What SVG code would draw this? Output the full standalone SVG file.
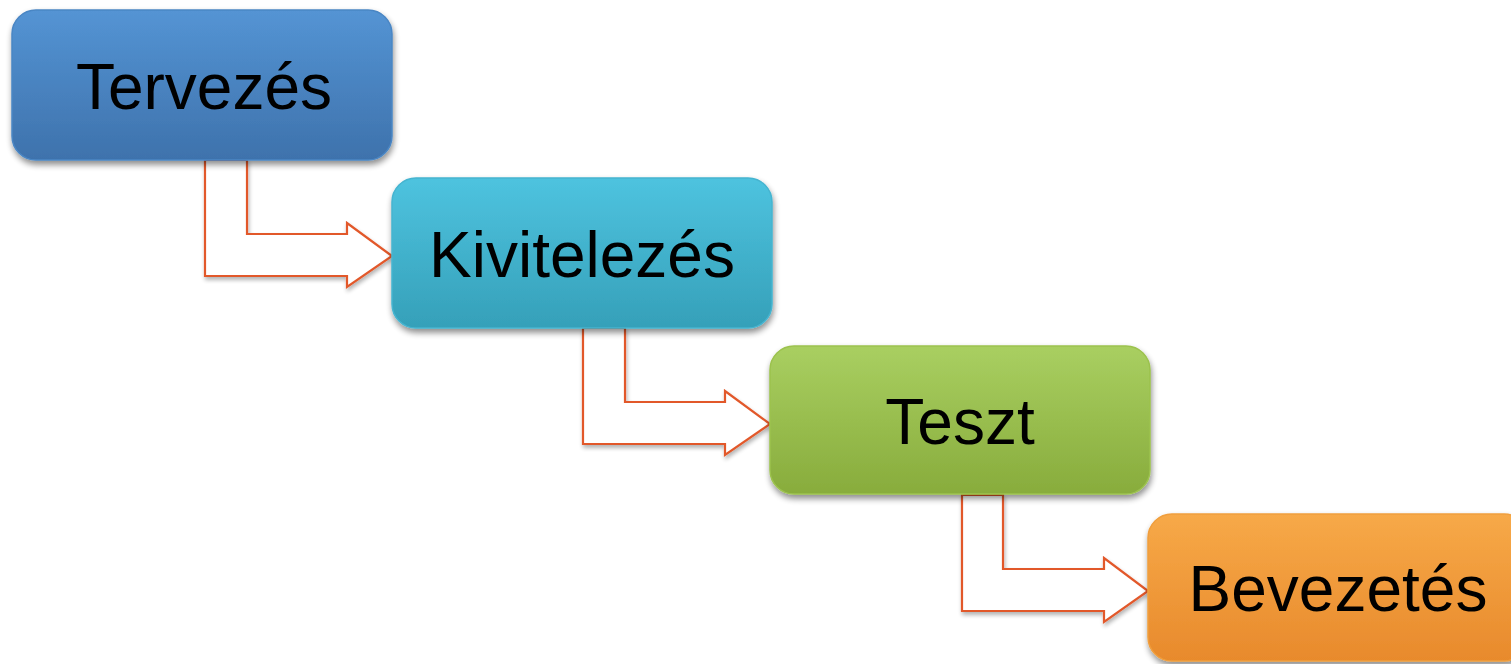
<svg xmlns="http://www.w3.org/2000/svg" width="1511" height="664" viewBox="0 0 1511 664">
<style>
.box{stroke-width:1.5;filter:url(#sh)}
.lbl{font-family:"Liberation Sans",Arial,sans-serif;font-size:64px;fill:#000;text-anchor:middle}
.arr{fill:#fff;stroke:#e2582a;stroke-width:2.2;stroke-linejoin:miter;filter:url(#sh2)}
</style>
<defs>
<filter id="sh" x="-10%" y="-10%" width="120%" height="130%">
<feGaussianBlur in="SourceAlpha" stdDeviation="3"/>
<feOffset dx="1" dy="4" result="b"/>
<feComponentTransfer><feFuncA type="linear" slope="0.45"/></feComponentTransfer>
<feMerge><feMergeNode/><feMergeNode in="SourceGraphic"/></feMerge>
</filter>
<filter id="sh2" x="-10%" y="-10%" width="120%" height="130%">
<feGaussianBlur in="SourceAlpha" stdDeviation="2"/>
<feOffset dx="1" dy="3"/>
<feComponentTransfer><feFuncA type="linear" slope="0.3"/></feComponentTransfer>
<feMerge><feMergeNode/><feMergeNode in="SourceGraphic"/></feMerge>
</filter>
<linearGradient id="g1" x1="0" y1="0" x2="0" y2="1"><stop offset="0" stop-color="#5494d4"/><stop offset="1" stop-color="#3e72ac"/></linearGradient>
<linearGradient id="g2" x1="0" y1="0" x2="0" y2="1"><stop offset="0" stop-color="#4ec3df"/><stop offset="1" stop-color="#35a0b9"/></linearGradient>
<linearGradient id="g3" x1="0" y1="0" x2="0" y2="1"><stop offset="0" stop-color="#a9cf61"/><stop offset="1" stop-color="#88ac3c"/></linearGradient>
<linearGradient id="g4" x1="0" y1="0" x2="0" y2="1"><stop offset="0" stop-color="#f7a948"/><stop offset="1" stop-color="#e88a2c"/></linearGradient>
</defs>
<g id="connectors">
<polygon class="arr" points="205,160 247,160 247,234 347,234 347,223 392,256 347,287 347,276 205,276"/>
<polygon class="arr" points="583,328 625,328 625,402 725,402 725,391 770,424 725,455 725,444 583,444"/>
<polygon class="arr" points="962,495 1003,495 1003,569 1104,569 1104,558 1148,591 1104,622 1104,611 962,611"/>
</g>
<g id="tervezes">
<rect class="box" x="12" y="10" width="380" height="150" rx="24" fill="url(#g1)" stroke="#4a86c4"/>
<text class="lbl" x="204" y="109">Tervezés</text>
</g>
<g id="kivitelezes">
<rect class="box" x="392" y="178" width="380" height="150" rx="24" fill="url(#g2)" stroke="#45b4d0"/>
<text class="lbl" x="582" y="277">Kivitelezés</text>
</g>
<g id="teszt">
<rect class="box" x="770" y="346" width="380" height="148" rx="24" fill="url(#g3)" stroke="#9cc24e"/>
<text class="lbl" x="960" y="444">Teszt</text>
</g>
<g id="bevezetes">
<rect class="box" x="1148" y="514" width="380" height="147" rx="24" fill="url(#g4)" stroke="#f09e3c"/>
<text class="lbl" x="1338" y="611">Bevezetés</text>
</g>
</svg>
